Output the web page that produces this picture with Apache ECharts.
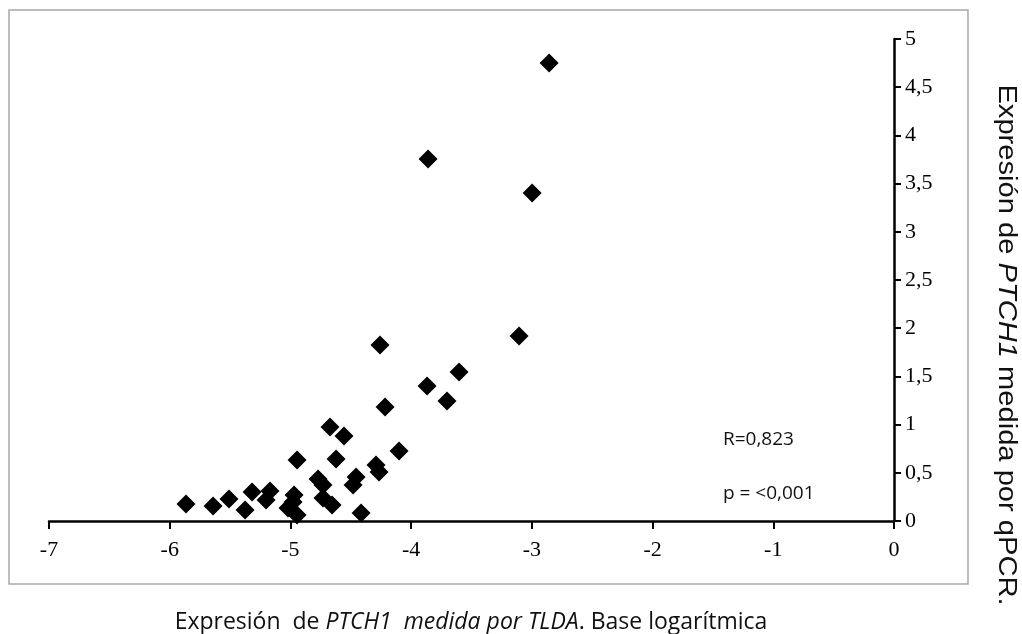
<!DOCTYPE html>
<html>
<head>
<meta charset="utf-8">
<script src="https://cdn.jsdelivr.net/npm/echarts@6/dist/echarts.min.js"></script>
<style>html,body{margin:0;padding:0;background:#fff;}#c{width:1022px;height:634px;}</style>
</head>
<body>
<div id="c"></div>
<script>
// TLDA expression (log base) vs qPCR expression
const xVals = [-2.857, -3.860, -2.998, -3.106, -4.258, -3.603, -3.868, -3.703, -4.216, -4.672,
  -4.556, -4.100, -4.945, -4.622, -4.291, -4.266, -4.771, -4.730, -4.456, -4.481,
  -4.730, -4.655, -4.415, -5.865, -5.641, -5.509, -5.376, -5.318, -5.169, -5.202,
  -4.970, -4.978, -5.020, -4.945];
const yVals = [4.751, 3.755, 3.402, 1.919, 1.826, 1.546, 1.400, 1.245, 1.183, 0.975,
  0.882, 0.726, 0.633, 0.643, 0.581, 0.508, 0.436, 0.373, 0.456, 0.373,
  0.239, 0.166, 0.083, 0.176, 0.156, 0.228, 0.114, 0.301, 0.311, 0.218,
  0.270, 0.197, 0.135, 0.062];
const xTicks = { min: -7, max: 0, interval: 1 };
const yTicks = { min: 0, max: 5, interval: 0.5 };
const annotations = ['R=0,823', 'p = <0,001'];

const points = xVals.map((x, i) => [x, yVals[i]]);
const chart = echarts.init(document.getElementById('c'));
chart.setOption({
  animation: false,
  backgroundColor: '#fff',
  grid: { left: 49, right: 128, top: 39, bottom: 113 },
  xAxis: {
    type: 'value', min: xTicks.min, max: xTicks.max, interval: xTicks.interval,
    splitLine: { show: false },
    axisLine: { show: true, onZero: false, lineStyle: { color: '#000', width: 2.5 } },
    axisTick: { show: true, length: 8, lineStyle: { color: '#000', width: 2 } },
    axisLabel: { color: '#000', fontFamily: 'Liberation Serif', fontSize: 22, margin: 18 }
  },
  yAxis: {
    type: 'value', position: 'right', min: yTicks.min, max: yTicks.max, interval: yTicks.interval,
    splitLine: { show: false },
    axisLine: { show: true, onZero: false, lineStyle: { color: '#000', width: 2.5 } },
    axisTick: { show: true, length: 7, lineStyle: { color: '#000', width: 2 } },
    axisLabel: { color: '#000', fontFamily: 'Liberation Serif', fontSize: 22, margin: 11,
      formatter: v => String(v).replace('.', ',') }
  },
  series: [{
    type: 'scatter', data: points, symbol: 'diamond', symbolSize: 19,
    itemStyle: { color: '#000', opacity: 1 }
  }],
  graphic: [
    { type: 'rect', shape: { x: 9, y: 10, width: 959, height: 574 }, silent: true,
      style: { fill: 'none', stroke: '#a8a8a8', lineWidth: 1.5 } },
    { type: 'text', x: 723, y: 440, silent: true,
      style: { text: annotations[0], fontFamily: 'Open Sans', fontSize: 19, fill: '#111', verticalAlign: 'middle' } },
    { type: 'text', x: 723, y: 494, silent: true,
      style: { text: annotations[1], fontFamily: 'Open Sans', fontSize: 19, fill: '#111', verticalAlign: 'middle' } },
    { type: 'text', x: 471, y: 622, silent: true,
      style: { text: '{n|Expresión  de }{i|PTCH1  medida por TLDA}{n|. Base logarítmica}',
        align: 'center', verticalAlign: 'middle',
        rich: { n: { fontFamily: 'Open Sans', fontSize: 23, fill: '#111' },
                i: { fontFamily: 'Open Sans', fontSize: 23, fontStyle: 'italic', fill: '#111' } } } },
    { type: 'text', x: 1006, y: 345, rotation: -Math.PI / 2, scaleX: 1.12, silent: true,
      style: { text: '{n|Expresión de }{i|PTCH1}{n| medida por qPCR.}',
        align: 'center', verticalAlign: 'middle',
        rich: { n: { fontFamily: 'Liberation Sans', fontSize: 26, fill: '#111' },
                i: { fontFamily: 'Liberation Sans', fontSize: 26, fontStyle: 'italic', fill: '#111' } } } }
  ]
});
</script>
</body>
</html>
